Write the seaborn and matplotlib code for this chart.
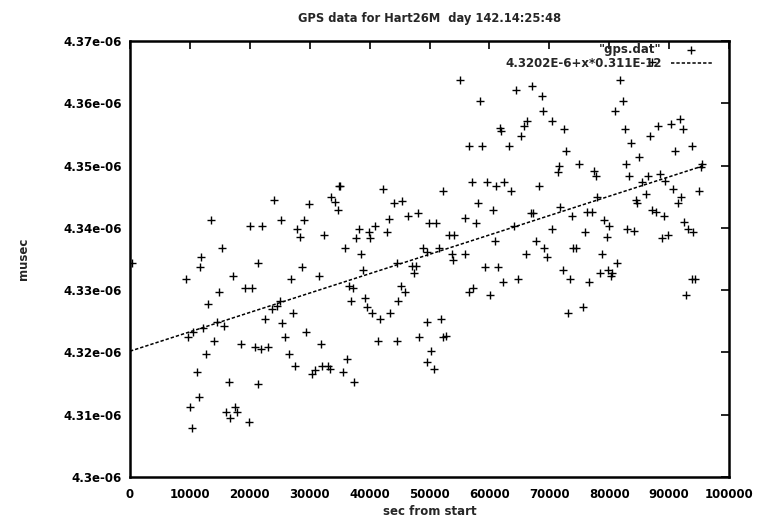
import matplotlib
matplotlib.use("Agg")
import matplotlib.pyplot as plt
import seaborn as sns
import numpy as np
import pandas as pd
from matplotlib.ticker import FixedLocator, FuncFormatter

# ---------------- data (x in seconds, y in units of 1e-6) ----------------
sec_from_start = [
    300, 13500, 20000, 22000, 24000, 25200, 29900, 29000, 27900, 28400,
    32400, 33600, 34200, 34900, 34700, 15400, 11900, 11700, 21400, 28700,
    9300, 17200, 26900, 31600, 14900, 19200, 20400, 13000, 25000, 23700,
    24500, 27200, 22500, 25400, 14500, 15700, 12200, 10500, 9700, 29400,
    14000, 25900, 18500, 20900, 21900, 23000, 31900, 12700, 26500, 27500,
    11200, 30400, 30900, 32100, 33100, 33400, 16500, 21400, 11500, 10000,
    17500, 16000, 17900, 16700, 19900, 10400, 36200, 35600, 37400, 38200,
    39900, 40900, 42900, 37700, 40100, 35900, 38600, 38900, 43200, 49900,
    51100, 55900, 57800, 53300, 54100, 48900, 49600, 51600, 44600, 47100,
    47700, 47400, 53800, 53900, 55900, 60900, 64100, 67800, 69100, 66100,
    69600, 59300, 61400, 62300, 64800, 56600, 57300, 60100, 36600, 37200,
    36900, 39200, 39600, 40400, 41700, 43400, 44700, 45200, 45900, 41400,
    44600, 48200, 49600, 51900, 52300, 52800, 50200, 49600, 50800, 55100,
    58400, 64400, 67100, 68800, 68900, 61800, 62000, 66300, 65800, 65300,
    56600, 58800, 63300, 35100, 42200, 52300, 57100, 59600, 61100, 62400,
    63600, 68300, 44100, 45400, 58100, 60600, 46400, 48100, 66900, 67300,
    81800, 82300, 81000, 70400, 72500, 82600, 86800, 88100, 90300, 91800,
    92300, 83600, 93800, 91000, 72800, 85000, 71600, 71500, 75000, 82800,
    77500, 77800, 83300, 86500, 88500, 95500, 95300, 89300, 85500, 90600,
    95000, 86100, 92000, 91500, 84500, 84600, 78000, 71800, 73800, 76300,
    77100, 87100, 87800, 89100, 79100, 80000, 70400, 76000, 83000, 84100,
    92500, 93200, 94000, 79600, 88800, 89800, 74000, 74500, 78800, 81300,
    72300, 73500, 76600, 78500, 79800, 80500, 80300, 93800, 94300, 92800,
    73100, 75600, 87100,
]
musec_e6 = [
    4.3344, 4.3412, 4.3403, 4.3403, 4.3444, 4.3412, 4.3438, 4.3412, 4.3398, 4.3385,
    4.3388, 4.3449, 4.3441, 4.3468, 4.3428, 4.3368, 4.3353, 4.3337, 4.3344, 4.3337,
    4.3318, 4.3323, 4.3318, 4.3323, 4.3297, 4.3304, 4.3304, 4.3278, 4.3283, 4.3269,
    4.3275, 4.3264, 4.3254, 4.3248, 4.3249, 4.3243, 4.3240, 4.3233, 4.3224, 4.3233,
    4.3219, 4.3224, 4.3214, 4.3209, 4.3205, 4.3209, 4.3214, 4.3198, 4.3198, 4.3179,
    4.3169, 4.3165, 4.3171, 4.3179, 4.3179, 4.3174, 4.3153, 4.3149, 4.3128, 4.3113,
    4.3113, 4.3104, 4.3104, 4.3094, 4.3088, 4.3078, 4.3189, 4.3169, 4.3153, 4.3398,
    4.3393, 4.3403, 4.3393, 4.3384, 4.3384, 4.3368, 4.3358, 4.3332, 4.3414, 4.3408,
    4.3408, 4.3416, 4.3408, 4.3388, 4.3388, 4.3368, 4.3361, 4.3368, 4.3344, 4.3339,
    4.3339, 4.3328, 4.3358, 4.3348, 4.3358, 4.3379, 4.3403, 4.3379, 4.3368, 4.3358,
    4.3353, 4.3337, 4.3337, 4.3313, 4.3318, 4.3297, 4.3304, 4.3292, 4.3307, 4.3304,
    4.3283, 4.3288, 4.3273, 4.3264, 4.3253, 4.3264, 4.3283, 4.3307, 4.3297, 4.3219,
    4.3219, 4.3224, 4.3249, 4.3253, 4.3224, 4.3227, 4.3203, 4.3184, 4.3173, 4.3638,
    4.3603, 4.3622, 4.3628, 4.3612, 4.3588, 4.3561, 4.3556, 4.3572, 4.3563, 4.3548,
    4.3532, 4.3532, 4.3532, 4.3468, 4.3463, 4.3459, 4.3473, 4.3473, 4.3468, 4.3473,
    4.3459, 4.3468, 4.3440, 4.3443, 4.3440, 4.3428, 4.3419, 4.3424, 4.3424, 4.3424,
    4.3638, 4.3603, 4.3588, 4.3572, 4.3558, 4.3558, 4.3547, 4.3563, 4.3567, 4.3574,
    4.3558, 4.3537, 4.3532, 4.3523, 4.3523, 4.3513, 4.3500, 4.3489, 4.3503, 4.3503,
    4.3492, 4.3483, 4.3484, 4.3484, 4.3487, 4.3503, 4.3497, 4.3475, 4.3473, 4.3463,
    4.3459, 4.3454, 4.3449, 4.3440, 4.3444, 4.3440, 4.3449, 4.3433, 4.3419, 4.3425,
    4.3425, 4.3428, 4.3425, 4.3419, 4.3412, 4.3403, 4.3398, 4.3393, 4.3398, 4.3395,
    4.3409, 4.3398, 4.3393, 4.3385, 4.3384, 4.3388, 4.3368, 4.3368, 4.3358, 4.3344,
    4.3332, 4.3318, 4.3313, 4.3328, 4.3332, 4.3328, 4.3323, 4.3318, 4.3318, 4.3292,
    4.3264, 4.3273, 4.3666,
]

fit_intercept = 4.3202e-6
fit_slope = 0.311e-12

title_text = "GPS data for Hart26M  day 142.14:25:48"
x_label = "sec from start"
y_label = "musec"
data_label = '"gps.dat"'
fit_label = "4.3202E-6+x*0.311E-12"

x_ticks = [0, 10000, 20000, 30000, 40000, 50000, 60000, 70000, 80000, 90000, 100000]
y_ticks = [4.30e-6, 4.31e-6, 4.32e-6, 4.33e-6, 4.34e-6, 4.35e-6, 4.36e-6, 4.37e-6]

# ---------------- build frames ----------------
df = pd.DataFrame({"sec": sec_from_start,
                   "musec": np.array(musec_e6) * 1e-6})
xfit = np.array([0.0, max(sec_from_start)])
fit_df = pd.DataFrame({"sec": xfit, "musec": fit_intercept + fit_slope * xfit})

# ---------------- style ----------------
sns.set_style("white")
plt.rcParams["font.family"] = ["DejaVu Sans"]
plt.rcParams["font.weight"] = "bold"

fig = plt.figure(figsize=(7.6, 5.21), dpi=100)
fig.subplots_adjust(left=130 / 760, right=729 / 760,
                    top=1 - 41 / 521, bottom=1 - 477 / 521)
ax = fig.add_subplot(111)

sns.scatterplot(data=df, x="sec", y="musec", marker="+", s=32,
                color="black", linewidth=1.0, ax=ax, label=data_label,
                zorder=3)
sns.lineplot(data=fit_df, x="sec", y="musec", color="black", ax=ax,
             linewidth=1.1, linestyle=(0, (2.2, 1.3)), label=fit_label,
             zorder=2)

ax.set_xlim(0, 100000)
ax.set_ylim(4.3e-6, 4.37e-6)
ax.xaxis.set_major_locator(FixedLocator(x_ticks))
ax.yaxis.set_major_locator(FixedLocator(y_ticks))
ax.xaxis.set_major_formatter(FuncFormatter(lambda v, p: "%d" % round(v)))
ax.yaxis.set_major_formatter(FuncFormatter(lambda v, p: "%g" % v))

ax.tick_params(axis="both", which="major", direction="in", length=6,
               width=1.2, color="black", labelsize=8.5, labelcolor="black",
               top=True, right=True)
ax.tick_params(axis="x", pad=8)
ax.tick_params(axis="y", pad=6)
for lab in ax.get_xticklabels() + ax.get_yticklabels():
    lab.set_fontweight("bold")

for sp in ax.spines.values():
    sp.set_visible(True)
    sp.set_color("black")
    sp.set_linewidth(1.8)

ax.set_title(title_text, fontsize=8.3, fontweight="bold", pad=14)
ax.set_xlabel(x_label, fontsize=8.5, fontweight="bold", labelpad=3)
ax.set_ylabel(y_label, fontsize=8.5, fontweight="bold", labelpad=24)

leg = ax.legend(loc="upper right", bbox_to_anchor=(0.9716, 0.995),
                frameon=False, markerfirst=False,
                handlelength=3.5, borderaxespad=0.0, borderpad=0.0,
                labelspacing=0.05, handletextpad=0.75,
                prop={"weight": "bold", "size": 8.5})
for t in leg.get_texts():
    t.set_ha("right")

fig.savefig("out.png", dpi=100)
